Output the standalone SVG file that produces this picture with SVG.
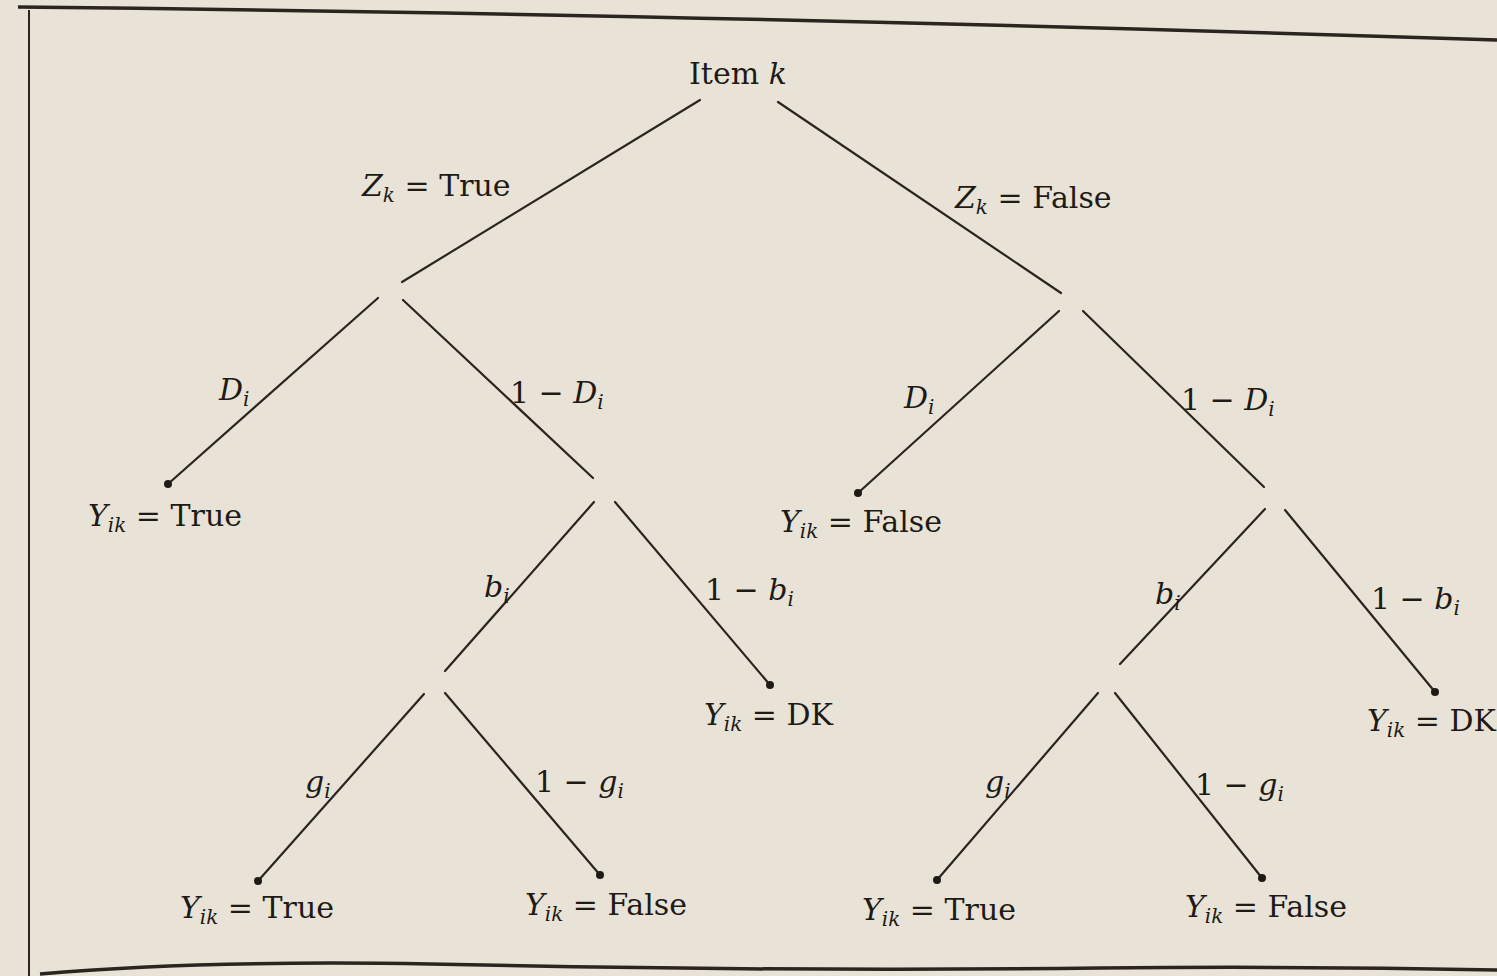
<svg xmlns="http://www.w3.org/2000/svg" width="1497" height="976" viewBox="0 0 1497 976">
<style>
.t{font-family:"DejaVu Serif","Liberation Serif",serif;font-size:30px;fill:#1e1a16}
.i{font-style:italic}
.s{font-size:20px;font-style:italic}
.e{stroke:#2a2520;stroke-width:2.2;fill:none;stroke-linecap:round}
.d{fill:#1e1a16}
</style>
<rect width="1497" height="976" fill="#e8e3d6"/>
<g id="frame" fill="none" stroke="#2a2520">
<path d="M18 7 Q 700 14 1497 40" stroke-width="3.5"/>
<line x1="29" y1="10" x2="29" y2="976" stroke-width="2"/>
<path d="M40 974 Q 200 960 430 964 Q 800 972 1100 968 Q 1300 966 1497 970" stroke-width="3.5"/>
</g>
<g id="connectors">
<line class="e" x1="700" y1="100" x2="402" y2="282"/>
<line class="e" x1="778" y1="102" x2="1061" y2="293"/>
<line class="e" x1="378" y1="298" x2="168" y2="484"/>
<line class="e" x1="403" y1="300" x2="593" y2="478"/>
<line class="e" x1="594" y1="502" x2="445" y2="671"/>
<line class="e" x1="615" y1="502" x2="770" y2="685"/>
<line class="e" x1="424" y1="694" x2="258" y2="881"/>
<line class="e" x1="445" y1="693" x2="600" y2="875"/>
<line class="e" x1="1059" y1="311" x2="858" y2="493"/>
<line class="e" x1="1083" y1="311" x2="1264" y2="487"/>
<line class="e" x1="1265" y1="509" x2="1120" y2="664"/>
<line class="e" x1="1285" y1="510" x2="1435" y2="692"/>
<line class="e" x1="1098" y1="693" x2="937" y2="880"/>
<line class="e" x1="1115" y1="693" x2="1262" y2="878"/>
</g>
<g id="edge-labels">
<text class="t" x="362" y="196"><tspan class="i">Z</tspan><tspan class="s" dy="6">k</tspan><tspan dy="-6"> = True</tspan></text>
<text class="t" x="955" y="208"><tspan class="i">Z</tspan><tspan class="s" dy="6">k</tspan><tspan dy="-6"> = False</tspan></text>
<text class="t" x="219" y="400"><tspan class="i">D</tspan><tspan class="s" dy="6">i</tspan></text>
<text class="t" x="510" y="403">1 − <tspan class="i">D</tspan><tspan class="s" dy="6">i</tspan></text>
<text class="t" x="904" y="408"><tspan class="i">D</tspan><tspan class="s" dy="6">i</tspan></text>
<text class="t" x="1181" y="410">1 − <tspan class="i">D</tspan><tspan class="s" dy="6">i</tspan></text>
<text class="t" x="484" y="597"><tspan class="i">b</tspan><tspan class="s" dy="6">i</tspan></text>
<text class="t" x="705" y="600">1 − <tspan class="i">b</tspan><tspan class="s" dy="6">i</tspan></text>
<text class="t" x="1155" y="604"><tspan class="i">b</tspan><tspan class="s" dy="6">i</tspan></text>
<text class="t" x="1371" y="609">1 − <tspan class="i">b</tspan><tspan class="s" dy="6">i</tspan></text>
<text class="t" x="305" y="792"><tspan class="i">g</tspan><tspan class="s" dy="6">i</tspan></text>
<text class="t" x="535" y="792">1 − <tspan class="i">g</tspan><tspan class="s" dy="6">i</tspan></text>
<text class="t" x="985" y="792"><tspan class="i">g</tspan><tspan class="s" dy="6">i</tspan></text>
<text class="t" x="1195" y="795">1 − <tspan class="i">g</tspan><tspan class="s" dy="6">i</tspan></text>
</g>
<g id="root"><text class="t" x="689" y="84">Item <tspan class="i">k</tspan></text></g>
<g id="leaf-L1">
<circle class="d" cx="168" cy="484" r="4"/>
<text class="t" x="88" y="526"><tspan class="i">Y</tspan><tspan class="s" dy="6">ik</tspan><tspan dy="-6"> = True</tspan></text>
</g>
<g id="leaf-L2">
<circle class="d" cx="770" cy="685" r="4"/>
<text class="t" x="704" y="725"><tspan class="i">Y</tspan><tspan class="s" dy="6">ik</tspan><tspan dy="-6"> = DK</tspan></text>
</g>
<g id="leaf-L3a">
<circle class="d" cx="258" cy="881" r="4"/>
<text class="t" x="180" y="918"><tspan class="i">Y</tspan><tspan class="s" dy="6">ik</tspan><tspan dy="-6"> = True</tspan></text>
</g>
<g id="leaf-L3b">
<circle class="d" cx="600" cy="875" r="4"/>
<text class="t" x="525" y="915"><tspan class="i">Y</tspan><tspan class="s" dy="6">ik</tspan><tspan dy="-6"> = False</tspan></text>
</g>
<g id="leaf-R1">
<circle class="d" cx="858" cy="493" r="4"/>
<text class="t" x="780" y="532"><tspan class="i">Y</tspan><tspan class="s" dy="6">ik</tspan><tspan dy="-6"> = False</tspan></text>
</g>
<g id="leaf-R2">
<circle class="d" cx="1435" cy="692" r="4"/>
<text class="t" x="1367" y="731"><tspan class="i">Y</tspan><tspan class="s" dy="6">ik</tspan><tspan dy="-6"> = DK</tspan></text>
</g>
<g id="leaf-R3a">
<circle class="d" cx="937" cy="880" r="4"/>
<text class="t" x="862" y="920"><tspan class="i">Y</tspan><tspan class="s" dy="6">ik</tspan><tspan dy="-6"> = True</tspan></text>
</g>
<g id="leaf-R3b">
<circle class="d" cx="1262" cy="878" r="4"/>
<text class="t" x="1185" y="917"><tspan class="i">Y</tspan><tspan class="s" dy="6">ik</tspan><tspan dy="-6"> = False</tspan></text>
</g>
</svg>
